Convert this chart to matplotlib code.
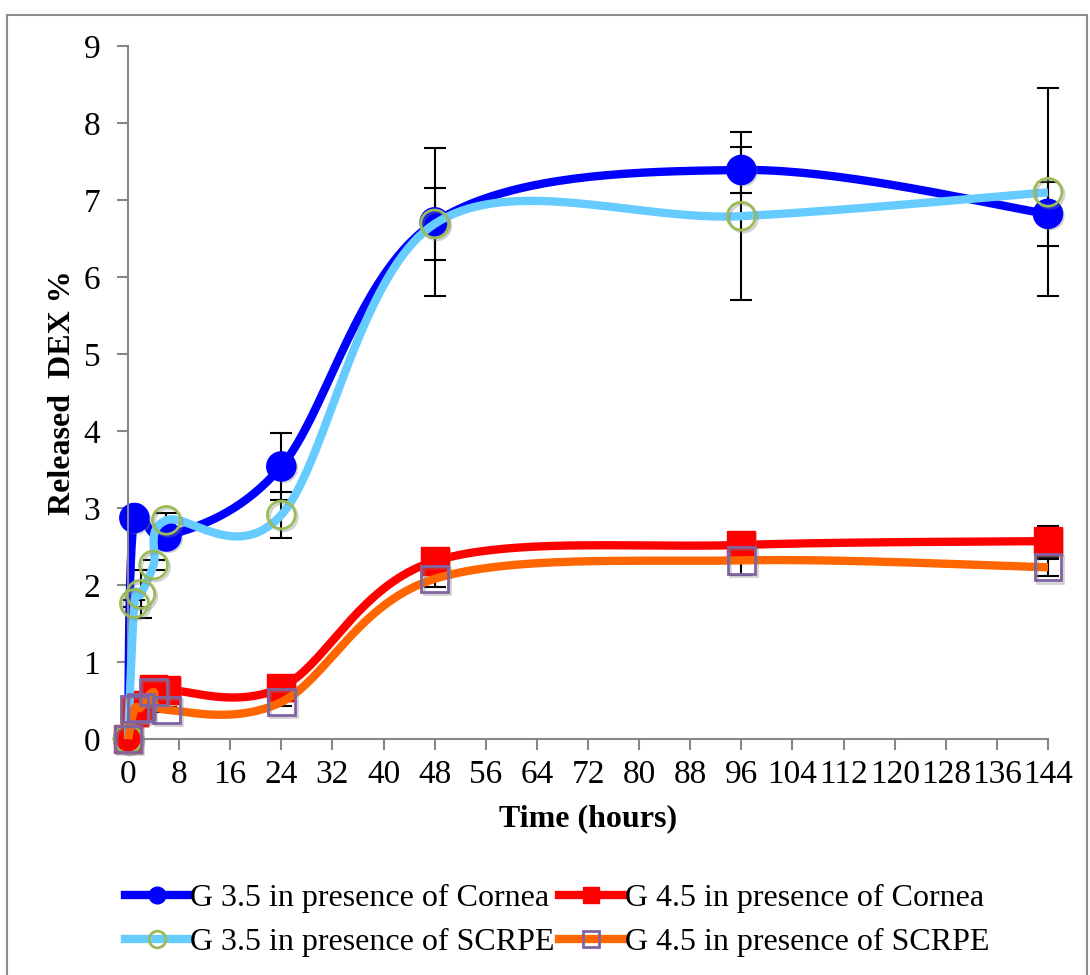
import numpy as np
import matplotlib
matplotlib.use("Agg")
import matplotlib.pyplot as plt
import matplotlib.patheffects as pe
from matplotlib.patches import Rectangle

plt.rcParams["font.family"] = ["Liberation Serif", "DejaVu Serif"]

# release data (hours vs released DEX %)
hours_cornea35 = [0, 1, 6, 24, 48, 96, 144]
g35_cornea = [0, 2.87, 2.63, 3.54, 6.71, 7.39, 6.82]
g35_cornea_err = [0, 0.1, 0.1, 0.43, 0.96, 0.3, 0.42]

hours = [0, 1, 2, 4, 6, 24, 48, 96, 144]
g45_cornea = [0, 0.35, 0.44, 0.65, 0.64, 0.67, 2.31, 2.52, 2.57]
g45_cornea_err = [0, 0.05, 0.05, 0.05, 0.05, 0.05, 0.08, 0.1, 0.2]

g35_scrpe = [0, 1.76, 1.88, 2.26, 2.84, 2.91, 6.69, 6.79, 7.1]
g35_scrpe_err = [0, 0.05, 0.31, 0.07, 0.1, 0.3, 0.47, 1.09, 1.35]

g45_scrpe = [0, 0.39, 0.41, 0.61, 0.38, 0.48, 2.08, 2.32, 2.23]
g45_scrpe_err = [0, 0.03, 0.03, 0.03, 0.03, 0.05, 0.1, 0.19, 0.11]

labels = ["G 3.5 in presence of Cornea", "G 4.5 in presence of Cornea",
          "G 3.5 in presence of SCRPE", "G 4.5 in presence of SCRPE"]

# pixel scale per unit, so the smoothing behaves like a spreadsheet curve
SX, SY = 920 / 144, 693 / 9


def smooth(x, y, n=40):
    p = np.column_stack([np.asarray(x, float) * SX, np.asarray(y, float) * SY])
    ext = np.vstack([p[0], p, p[-1]])
    t = np.linspace(0, 1, n)[:, None]
    pts = []
    for i in range(len(p) - 1):
        p0, p1, p2, p3 = ext[i], ext[i + 1], ext[i + 2], ext[i + 3]
        c1 = p1 + (p2 - p0) / 6
        c2 = p2 - (p3 - p1) / 6
        seg = ((1 - t) ** 3) * p1 + 3 * (1 - t) ** 2 * t * c1 + 3 * (1 - t) * t ** 2 * c2 + t ** 3 * p2
        pts.append(seg if i == 0 else seg[1:])
    pts = np.vstack(pts)
    return pts[:, 0] / SX, pts[:, 1] / SY


fig = plt.figure(figsize=(10.9, 9.75), dpi=100)
ax = fig.add_axes([128 / 1090, 1 - 739 / 975, 920 / 1090, 693 / 975])

series = [
    (hours_cornea35, g35_cornea, g35_cornea_err, "#0000FF", "o", "#0000FF", "#0000FF", 21),
    (hours, g45_cornea, g45_cornea_err, "#FF0000", "s", "#FF0000", "#FF0000", 20),
    (hours, g35_scrpe, g35_scrpe_err, "#66CCFF", "o", "none", "#9BBB59", 20),
    (hours, g45_scrpe, g45_scrpe_err, "#FF6600", "s", "none", "#8064A2", 19),
]

shadow = [pe.SimplePatchShadow(offset=(1.5, -1.5), shadow_rgbFace="0.5", alpha=0.35), pe.Normal()]
shadow_open = [pe.SimpleLineShadow(offset=(1.5, -1.5), shadow_color="0.5", alpha=0.35, linewidth=2), pe.Normal()]

handles = []
for k, (x, y, err, col, mk, face, edge, ms) in enumerate(series):
    ax.errorbar(x, y, yerr=err, fmt="none", ecolor="black", elinewidth=1.5,
                capsize=8, capthick=1.5, zorder=1.5, clip_on=False)
    sx, sy = smooth(x, y)
    ax.plot(sx, sy, color=col, lw=6, solid_capstyle="butt", zorder=2 + k, clip_on=False)
    ax.plot(x, y, linestyle="none", marker=mk, markersize=ms, markerfacecolor=face,
            markeredgecolor=edge, markeredgewidth=2 if face == "none" else 1,
            zorder=2.5 + k, clip_on=False,
            path_effects=shadow if face != "none" else shadow_open)
    h, = ax.plot([], [], color=col, lw=6, marker=mk, markersize=12,
                 markerfacecolor=face, markeredgecolor=edge,
                 markeredgewidth=2 if face == "none" else 1)
    handles.append(h)

ax.set_xlim(0, 144)
ax.set_ylim(0, 9)
ax.set_xticks(np.arange(0, 145, 8))
ax.set_yticks(np.arange(0, 10, 1))
for s in ["top", "right"]:
    ax.spines[s].set_visible(False)
for s in ["left", "bottom"]:
    ax.spines[s].set_color("#868686")
    ax.spines[s].set_linewidth(1.5)
ax.tick_params(axis="both", direction="out", length=8, width=1.5, color="#868686",
               labelsize=24, labelcolor="black")
ax.tick_params(axis="y", pad=12)
ax.tick_params(axis="x", pad=7)

ax.set_xlabel("Time (hours)", fontsize=23, fontweight="bold", labelpad=10)
ax.set_ylabel("Released  DEX %", fontsize=23, fontweight="bold", labelpad=5)

# legend fills column by column, so order handles for row-wise reading
order = [0, 2, 1, 3]
fig.legend([handles[i] for i in order], [labels[i] for i in order],
           loc="center", bbox_to_anchor=(0.511, 0.056), ncol=2,
           frameon=False, fontsize=23, handlelength=2.0, handletextpad=0.05,
           columnspacing=0.15, labelspacing=0.45)

fig.add_artist(Rectangle((7 / 1090, -0.01), 1080 / 1090, 0.9846 + 0.01,
                         transform=fig.transFigure, fill=False,
                         edgecolor="#8C8C8C", linewidth=1.5))

fig.savefig("out.png", dpi=100)
